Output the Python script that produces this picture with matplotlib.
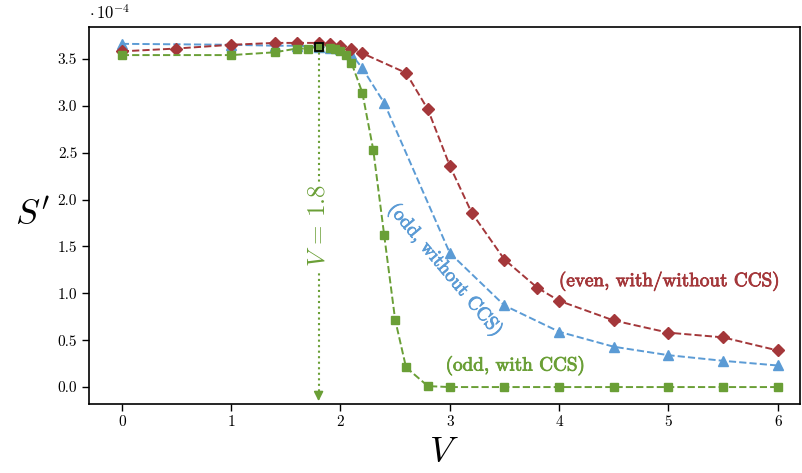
import matplotlib
matplotlib.use('Agg')
import matplotlib.pyplot as plt
import matplotlib.patheffects as pe

plt.rcParams['font.family'] = 'serif'
plt.rcParams['font.serif'] = ['cmr10', 'DejaVu Serif']
plt.rcParams['mathtext.fontset'] = 'cm'
plt.rcParams['axes.unicode_minus'] = False

# S' values in units of 1e-4
V_even = [0, 0.5, 1, 1.4, 1.6, 1.8, 1.9, 2.0, 2.1, 2.2, 2.6, 2.8, 3.0, 3.2, 3.5, 3.8, 4.0, 4.5, 5.0, 5.5, 6.0]
S_even = [3.58, 3.61, 3.65, 3.67, 3.67, 3.67, 3.66, 3.64, 3.60, 3.56, 3.35, 2.96, 2.36, 1.86, 1.36, 1.06, 0.92, 0.71, 0.58, 0.53, 0.39]

V_odd = [0, 1, 1.4, 1.6, 1.8, 1.9, 2.0, 2.1, 2.2, 2.4, 3.0, 3.5, 4.0, 4.5, 5.0, 5.5, 6.0]
S_odd = [3.66, 3.65, 3.64, 3.64, 3.63, 3.62, 3.60, 3.55, 3.40, 3.03, 1.43, 0.87, 0.59, 0.43, 0.34, 0.28, 0.23]

V_ccs = [0, 1, 1.4, 1.6, 1.7, 1.8, 1.9, 1.95, 2.0, 2.05, 2.1, 2.2, 2.3, 2.4, 2.5, 2.6, 2.8, 3.0, 3.5, 4.0, 4.5, 5.0, 5.5, 6.0]
S_ccs = [3.54, 3.54, 3.57, 3.61, 3.61, 3.63, 3.62, 3.60, 3.58, 3.54, 3.46, 3.14, 2.53, 1.62, 0.72, 0.21, 0.01, 0.0, 0.0, 0.0, 0.0, 0.0, 0.0, 0.0]

V_mark = 1.8
S_mark = 3.63

red = '#a4373a'
blue = '#5b9bd5'
green = '#6a9f36'

fig = plt.figure(figsize=(8.02, 4.73), dpi=100)
ax = fig.add_axes([0.111, 0.146, 0.886, 0.797])

ax.plot(V_ccs, S_ccs, '--s', color=green, ms=5.5, lw=1.4, zorder=3)
ax.plot(V_odd, S_odd, '--^', color=blue, ms=6.5, lw=1.4, zorder=2)
ax.plot(V_even, S_even, '--D', color=red, ms=6, lw=1.4, zorder=2)

ylo = -0.18
ax.plot([V_mark, V_mark], [S_mark, ylo + 0.1], ':', color=green, lw=1.5, zorder=2)
ax.annotate('', xy=(V_mark, ylo), xytext=(V_mark, ylo + 0.12),
            arrowprops=dict(arrowstyle='-|>', color=green, lw=1.2, mutation_scale=14))
ax.plot([V_mark], [S_mark], 's', mfc='none', mec='black', mew=1.3, ms=5.5, zorder=5)

# slightly heavier strokes for the annotation texts
thick = [pe.withStroke(linewidth=0.6)]
ax.text(V_mark, 1.72, r'$V\,=\,1.8$', rotation=90, color=green, fontsize=18,
        ha='center', va='center',
        bbox=dict(facecolor='white', edgecolor='none', pad=2))
t1 = ax.text(5.01, 1.13, '(even, with/without CCS)', color=red, fontsize=13.8,
             ha='center', va='center')
t2 = ax.text(3.6, 0.23, '(odd, with CCS)', color=green, fontsize=13.8,
             ha='center', va='center')
t3 = ax.text(2.96, 1.25, '(odd, without CCS)', color=blue, fontsize=13.8,
             ha='center', va='center', rotation=-50, rotation_mode='anchor')
for t in (t1, t2, t3):
    t.set_path_effects([pe.withStroke(linewidth=0.6, foreground=t.get_color())])

ax.set_xlim(-0.3, 6.2)
ax.set_ylim(ylo, 3.84)
ax.set_xticks(range(0, 7))
ax.set_yticks([0.0, 0.5, 1.0, 1.5, 2.0, 2.5, 3.0, 3.5])
ax.set_yticklabels(['0.0', '0.5', '1.0', '1.5', '2.0', '2.5', '3.0', '3.5'])
ax.tick_params(labelsize=11, length=5, width=1)
for s in ax.spines.values():
    s.set_linewidth(1.2)

ax.set_xlabel('$V$', fontsize=26, labelpad=6)
ax.set_ylabel("$S'$", fontsize=26, rotation=0, labelpad=18, va='center')
ax.text(0.0, 1.012, r'$\cdot\,10^{-4}$', transform=ax.transAxes, fontsize=12,
        ha='left', va='bottom')

plt.savefig('out.png', dpi=100)
